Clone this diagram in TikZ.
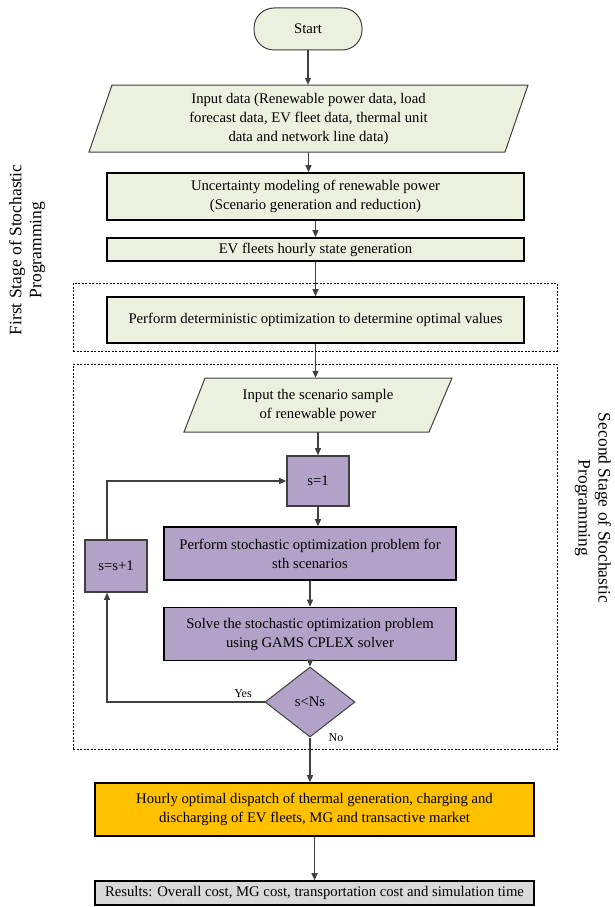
\documentclass[tikz,border=0pt]{standalone}
\usepackage{fontspec}
\setmainfont{Liberation Serif}
\usetikzlibrary{shapes.geometric,arrows.meta}
\definecolor{lgreen}{RGB}{235,241,222}
\definecolor{lpurple}{RGB}{178,162,199}
\definecolor{orng}{RGB}{255,192,0}
\definecolor{lgrey}{RGB}{217,217,217}
\definecolor{edgec}{RGB}{64,64,64}
\begin{document}
\begin{tikzpicture}[x=1pt,y=-1pt,
  font=\fontsize{14.7}{19}\selectfont,
  gbox/.style={rectangle,draw=black,line width=1.6pt,fill=lgreen,align=center,inner sep=0pt},
  pbox/.style={rectangle,draw=black,line width=1.6pt,fill=lpurple,align=center,inner sep=0pt},
  sbox/.style={rectangle,draw=edgec,line width=1.6pt,fill=lpurple,align=center,inner sep=0pt},
  obox/.style={rectangle,draw=black,line width=1.6pt,fill=orng,align=center,inner sep=0pt},
  rbox/.style={rectangle,draw=black,line width=1.6pt,fill=lgrey,align=center,inner sep=0pt},
  startbox/.style={rectangle,rounded corners=20pt,draw=edgec,line width=1pt,fill=lgreen,inner sep=0pt},
  parashape/.style={draw=edgec,line width=1pt,fill=lgreen},
  txt/.style={rectangle,draw=none,align=center,inner sep=0pt},
  dashbox/.style={rectangle,draw=black,line width=0.9pt,dash pattern=on 2pt off 1.5pt,inner sep=0pt},
  decis/.style={diamond,draw=edgec,line width=1pt,fill=lpurple,inner sep=0pt,aspect=1.3},
  arr/.style={draw=edgec,line width=1.1pt,-{Triangle[length=7pt,width=6pt]}},
  small/.style={font=\fontsize{12}{14}\selectfont},
  side/.style={align=center,font=\fontsize{17.5}{20}\selectfont}
]
\useasboundingbox (0,0) rectangle (614,907);

% stage frames
\node[dashbox,minimum width=484pt,minimum height=68pt] (stage1) at (315,317) {};
\node[dashbox,minimum width=484pt,minimum height=385pt] (stage2) at (315,556.5) {};

% start
\node[startbox,minimum width=108pt,minimum height=42pt] (start) at (308,29) {Start};

% input data parallelogram
\draw[parashape] (112,85) -- (528,85) -- (505,152) -- (89,152) -- cycle;
\node[txt,minimum width=300pt,minimum height=67pt] (input) at (308.5,118.5)
  {Input data (Renewable power data, load\\forecast data, EV fleet data, thermal unit\\data and network line data)};

\node[gbox,minimum width=417pt,minimum height=47pt] (unc) at (315.5,196.5)
  {Uncertainty modeling of renewable power\\(Scenario generation and reduction)};
\node[gbox,minimum width=417pt,minimum height=23pt] (ev) at (315.5,249.5)
  {EV fleets hourly state generation};
\node[gbox,minimum width=417pt,minimum height=46pt] (det) at (315.5,320)
  {Perform deterministic optimization to determine optimal values};

% scenario parallelogram
\draw[parashape] (205,378) -- (452,378) -- (429,432) -- (184,432) -- cycle;
\node[txt,minimum width=200pt,minimum height=54pt] (scen) at (318,405)
  {Input the scenario sample\\of renewable power};

\node[sbox,minimum width=62pt,minimum height=50pt] (s1) at (318,481) {s=1};
\node[pbox,minimum width=292pt,minimum height=53pt] (stoch) at (310,553.5)
  {Perform stochastic optimization problem for\\sth scenarios};
\node[pbox,minimum width=292pt,minimum height=53pt] (solve) at (310,634)
  {Solve the stochastic optimization problem\\using GAMS CPLEX solver};
\node[sbox,minimum width=62pt,minimum height=52pt] (sse) at (116,566) {s=s+1};
\node[decis,minimum width=90pt,minimum height=70pt] (dia) at (310,702) {s<Ns};

\node[small] (yes) at (243,694) {Yes};
\node[small] (no) at (336,738) {No};

\node[obox,minimum width=439pt,minimum height=53pt] (hourly) at (314.5,809.5)
  {Hourly optimal dispatch of thermal generation, charging and\\discharging of EV fleets, MG and transactive market};
\node[rbox,minimum width=439pt,minimum height=24pt] (res) at (314.5,893)
  {Results: Overall cost, MG cost, transportation cost and simulation time};

% side labels
\node[side,rotate=90] (lab1) at (27,250) {First Stage of Stochastic\\Programming};
\node[side,rotate=-90] (lab2) at (593,508) {Second Stage of Stochastic\\Programming};

% connectors
\draw[arr] (start.south) -- (start.south |- input.north);
\draw[arr] (input.south) -- (input.south |- unc.north);
\draw[arr] (unc.south) -- (ev.north);
\draw[arr] (ev.south) -- (det.north);
\draw[arr] (det.south) -- (det.south |- scen.north);
\draw[arr] (scen.south) -- (s1.north);
\draw[arr] (s1.south) -- (s1.south |- stoch.north);
\draw[arr] (stoch.south) -- (solve.north);
\draw[arr] (solve.south) -- (dia.north);
\draw[arr] (dia.west) -| ([xshift=-9pt]sse.south);
\draw[arr] ([xshift=-9pt]sse.north) |- (s1.west);
\draw[arr] (dia.south) -- (dia.south |- hourly.north);
\draw[arr] (hourly.south) -- (hourly.south |- res.north);
\end{tikzpicture}
\end{document}
